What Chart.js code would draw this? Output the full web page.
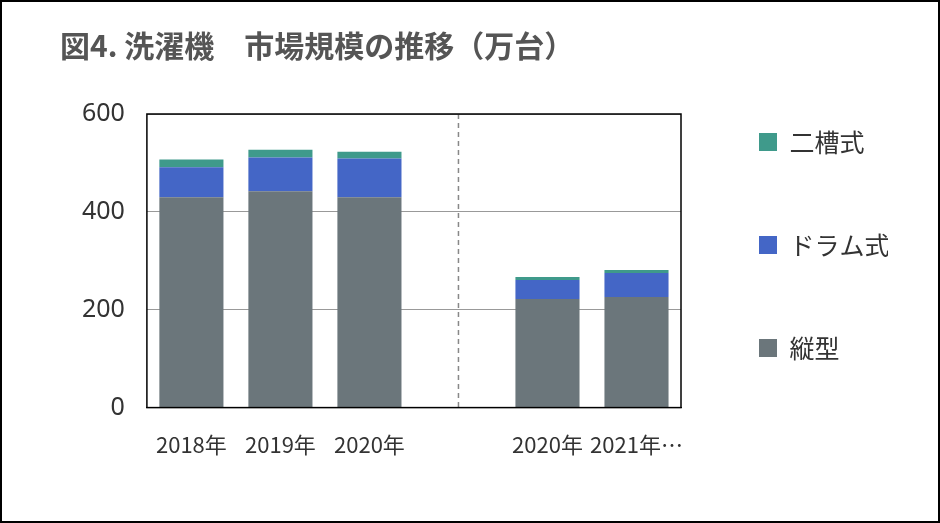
<!DOCTYPE html>
<html>
<head>
<meta charset="utf-8">
<script src="https://cdn.jsdelivr.net/npm/chart.js@4"></script>
<style>
  html, body { margin: 0; padding: 0; background: #fff; }
  #wrap { width: 936px; height: 519px; border: 2px solid #000; position: relative; }
</style>
</head>
<body>
<div id="wrap"><canvas id="c" width="936" height="519"></canvas></div>
<script>
const categories = ['2018年', '2019年', '2020年', '', '2020年', '2021年…'];
const tateValues = [430, 442, 430, null, 222, 226];
const drumValues = [61, 69, 79, null, 39, 49];
const nisouValues = [16, 16, 14, null, 6, 6];
const yTicks = [0, 200, 400, 600];

// dashed separator in the empty slot
const separator = {
  id: 'separator',
  afterDatasetsDraw(chart) {
    const { ctx, chartArea, scales } = chart;
    const x = scales.x.getPixelForValue(3);
    ctx.save();
    ctx.strokeStyle = '#888';
    ctx.lineWidth = 1.5;
    ctx.setLineDash([5, 4]);
    ctx.beginPath();
    ctx.moveTo(x, chartArea.top);
    ctx.lineTo(x, chartArea.bottom);
    ctx.stroke();
    ctx.setLineDash([]);
    ctx.strokeStyle = '#000';
    ctx.lineWidth = 1.5;
    ctx.strokeRect(chartArea.left, chartArea.top, chartArea.width, chartArea.height);
    ctx.restore();
  }
};

new Chart(document.getElementById('c'), {
  type: 'bar',
  data: {
    labels: categories,
    datasets: [
      { label: '縦型', data: tateValues, backgroundColor: '#6b767b' },
      { label: 'ドラム式', data: drumValues, backgroundColor: '#4466c6' },
      { label: '二槽式', data: nisouValues, backgroundColor: '#3f9a8b' }
    ]
  },
  options: {
    responsive: false,
    animation: false,
    layout: { padding: { left: 58, right: 50, top: 14, bottom: 47 } },
    datasets: { bar: { categoryPercentage: 1, barPercentage: 0.72 } },
    scales: {
      x: {
        stacked: true,
        grid: { display: false },
        border: { color: '#000' },
        ticks: { autoSkip: false, maxRotation: 0, color: '#333', padding: 16,
                 font: { family: '"Noto Sans CJK JP", "Noto Sans"', size: 22 } }
      },
      y: {
        stacked: true, min: 0, max: 600,
        afterBuildTicks: (s) => { s.ticks = yTicks.map(v => ({ value: v })); },
        grid: { color: '#999', drawTicks: false },
        border: { display: false },
        ticks: { color: '#333', padding: 22,
                 font: { family: '"Noto Sans", "Noto Sans CJK JP"', size: 25 } }
      }
    },
    plugins: {
      title: {
        display: true, align: 'start', color: '#555',
        text: '図4. 洗濯機　市場規模の推移（万台）',
        font: { family: '"Noto Sans CJK JP"', size: 30, weight: 'bold' },
        padding: { top: 12, bottom: 50 }
      },
      legend: {
        position: 'right', reverse: true, align: 'center',
        labels: { boxWidth: 18, boxHeight: 18, padding: 78, color: '#333',
                  font: { family: '"Noto Sans CJK JP"', size: 25 } }
      },
      tooltip: { enabled: false }
    }
  },
  plugins: [separator]
});
</script>
</body>
</html>
